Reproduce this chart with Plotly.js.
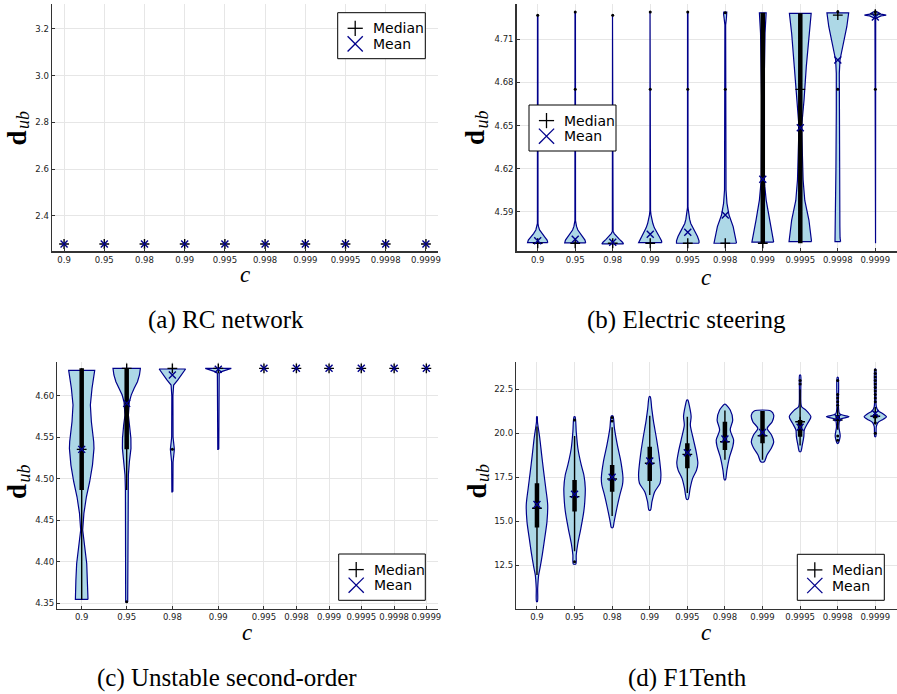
<!DOCTYPE html>
<html><head><meta charset="utf-8">
<script src="https://cdn.plot.ly/plotly-3.0.1.min.js"></script>
<style>html,body{margin:0;padding:0;background:#fff}</style>
</head><body><div id="chart" style="width:897px;height:694px"></div>
<script>
// ---------- shared categories ----------
const cLabels = ['0.9','0.95','0.98','0.99','0.995','0.998','0.999','0.9995','0.9998','0.9999'];
const catIndex = [0,1,2,3,4,5,6,7,8,9];
// panel (c) places its categories unevenly
const cPanelPos = [0, 0.985, 1.985, 2.99, 3.99, 4.70, 5.415, 6.12, 6.84, 7.545];
const legendLabels = ['Median', 'Mean'];

// ---------- (a) RC network ----------
const aMedian = [2.279,2.279,2.279,2.279,2.279,2.279,2.279,2.279,2.279,2.279];
const aMean   = [2.279,2.279,2.279,2.279,2.279,2.279,2.279,2.279,2.279,2.279];

// ---------- (b) Electric steering ----------
const bViolinY = [
  [4.5687,4.5705,4.5726,4.575,4.5775,4.580,4.582,4.7266],
  [4.5685,4.5705,4.5727,4.575,4.5775,4.580,4.5825,4.584,4.7289],
  [4.5678,4.569,4.571,4.573,4.575,4.5765,4.7266],
  [4.5687,4.570,4.573,4.576,4.579,4.582,4.585,4.588,4.591,4.7289],
  [4.5683,4.570,4.573,4.576,4.579,4.582,4.585,4.588,4.591,4.593,4.7289],
  [4.5683,4.5798,4.5879,4.596,4.6053,4.72,4.7245,4.7275,4.7289],
  [4.569,4.5844,4.5983,4.6076,4.6127,4.6678,4.691,4.7143,4.7284],
  [4.5694,4.5844,4.598,4.6122,4.6492,4.6678,4.691,4.714,4.728],
  [4.5694,4.572,4.58,4.62,4.66,4.675,4.6863,4.6956,4.7002,4.7094,4.7187,4.7284],
  [4.5683,4.7245,4.7262,4.7268,4.7275,4.729]
];
const bViolinW = [
  [0.27,0.25,0.19,0.11,0.05,0.02,0.008,0.006],
  [0.28,0.26,0.20,0.13,0.07,0.035,0.015,0.008,0.006],
  [0.29,0.26,0.18,0.10,0.04,0.01,0.006],
  [0.31,0.30,0.24,0.17,0.11,0.07,0.04,0.02,0.008,0.006],
  [0.30,0.30,0.26,0.20,0.13,0.08,0.05,0.03,0.013,0.007,0.006],
  [0.30,0.21,0.10,0.045,0.02,0.01,0.03,0.045,0.04],
  [0.29,0.18,0.09,0.055,0.04,0.03,0.04,0.06,0.09],
  [0.30,0.23,0.12,0.075,0.035,0.10,0.16,0.23,0.29],
  [0.075,0.06,0.055,0.05,0.04,0.035,0.04,0.058,0.093,0.16,0.24,0.29],
  [0.006,0.01,0.15,0.29,0.15,0.05]
];
const bMedian = [4.5683,4.5683,4.5683,4.5683,4.5683,4.5683,4.5683,4.6752,4.7268,4.7275];
const bMean   = [4.5700,4.5710,4.5690,4.5745,4.5759,4.5879,4.6127,4.6485,4.6956,4.7255];
const bBoxLo  = [null,null,null,null,null,null,4.5683,4.5683,null,null];
const bBoxHi  = [null,null,null,null,null,null,4.7284,4.7280,null,null];
const bOutlierCat = [0,1,2,3,4,5,8,9,1,3,4,5,8,9];
const bOutlierVal = [4.7266,4.7289,4.7266,4.7289,4.7289,4.7285,4.7292,4.7292,4.6752,4.6752,4.6752,4.6752,4.6752,4.6752];

// ---------- (c) Unstable second-order ----------
const cViolinY = [
  [4.3547,4.378,4.398,4.418,4.4382,4.4583,4.4783,4.4964,4.5165,4.5366,4.5446,4.5687,4.5888,4.609,4.6169,4.6306],
  [4.3518,4.4864,4.5045,4.5205,4.5366,4.5487,4.5647,4.5767,4.5928,4.6008,4.609,4.6169,4.625,4.633],
  [4.4843,4.52,4.5354,4.55,4.60,4.6129,4.619,4.625,4.6322],
  [4.5354,4.627,4.629,4.631,4.633],
  [],[],[],[],[],[]
];
const cViolinW = [
  [0.138,0.127,0.11,0.066,0.022,0.048,0.103,0.175,0.236,0.269,0.263,0.212,0.19,0.226,0.247,0.285],
  [0.022,0.028,0.037,0.059,0.094,0.092,0.066,0.037,0.059,0.099,0.164,0.236,0.28,0.30],
  [0.011,0.015,0.044,0.015,0.012,0.028,0.12,0.20,0.289],
  [0.011,0.02,0.07,0.16,0.285],
  [],[],[],[],[],[]
];
const cMedian  = [4.5354,4.633,4.633,4.633,4.633,4.633,4.633,4.633,4.633,4.633];
const cMean    = [4.5354,4.5908,4.625,4.632,4.633,4.633,4.633,4.633,4.633,4.633];
const cBoxLo   = [4.4864,4.5354,null,null,null,null,null,null,null,null];
const cBoxHi   = [4.633,4.633,null,null,null,null,null,null,null,null];
const cWhiskLo = [4.3547,4.4864,null,null,null,null,null,null,null,null];
const cWhiskHi = [4.633,4.633,null,null,null,null,null,null,null,null];
const cOutlierCat = [1,2];
const cOutlierVal = [4.3518,4.5354];

// ---------- (d) F1Tenth ----------
const dViolinY = [
  [10.43,11.19,11.95,12.33,13.09,14.03,14.98,15.93,16.875,17.82,18.77,19.72,20.66,20.94],
  [12.56,13.09,13.65,14.6,15.55,16.11,16.875,17.63,18.2,19.15,20.09,20.94],
  [14.64,14.98,15.74,16.5,17.06,17.44,18.39,19.34,20.28,20.98],
  [15.64,16.11,16.68,17.16,17.63,18.77,19.72,20.66,21.42,22.08],
  [16.25,16.875,17.44,17.91,18.3,18.96,19.72,20.47,20.94,21.51,21.89],
  [17.35,17.91,18.67,19.24,19.62,20.19,20.76,21.32,21.65],
  [18.39,18.77,19.15,19.52,19.9,20.28,20.66,21.04,21.27],
  [18.96,19.34,19.81,20.19,20.57,20.94,21.32,21.51,22.46,23.31],
  [19.43,19.85,20.38,20.8,20.94,21.1,21.51,23.18],
  [19.81,20.38,20.6,20.8,20.94,21.1,21.28,21.51,23.65]
];
const dViolinW = [
  [0.012,0.019,0.045,0.08,0.141,0.205,0.266,0.285,0.234,0.178,0.125,0.075,0.013,0.008],
  [0.032,0.045,0.08,0.168,0.245,0.272,0.285,0.248,0.178,0.088,0.045,0.013],
  [0.021,0.053,0.125,0.205,0.274,0.288,0.232,0.138,0.061,0.021],
  [0.021,0.059,0.133,0.274,0.298,0.245,0.178,0.101,0.053,0.013],
  [0.021,0.075,0.141,0.245,0.28,0.234,0.154,0.08,0.101,0.059,0.013],
  [0.013,0.053,0.125,0.208,0.232,0.141,0.208,0.141,0.013],
  [0.048,0.12,0.234,0.298,0.24,0.125,0.258,0.298,0.221],
  [0.019,0.059,0.099,0.112,0.2,0.288,0.154,0.04,0.019,0.013],
  [0.013,0.067,0.032,0.067,0.3,0.053,0.021,0.013],
  [0.013,0.027,0.067,0.213,0.298,0.213,0.08,0.027,0.013]
];
const dMedian  = [15.74,16.4,17.4,18.3,18.8,19.52,19.86,20.66,20.76,20.97];
const dMean    = [15.95,16.53,17.5,18.42,18.9,19.68,20.05,20.34,20.9,21.12];
const dBoxLo   = [14.64,15.55,16.68,17.29,18.01,19.05,19.43,19.81,20.7,20.85];
const dBoxHi   = [17.16,17.35,18.2,19.24,19.43,20.66,21.27,20.76,21.04,21.1];
const dWhiskLo = [11.95,13.3,15.3,16.5,16.6,18.5,18.5,19.3,20.2,20.5];
const dWhiskHi = [20.38,19.85,20.35,21.0,20.94,21.3,21.27,22.5,21.5,21.5];
const dOutlierCat = [1,1,2,2,7,7,8,8,8,8,8,8,8,9,9,9,9,9,9,9,9,9,9,9,9];
const dOutlierVal = [20.75,12.7,20.9,20.7,22.8,23.0,22.2,22.0,21.8,21.6,19.85,19.6,23.0,23.6,23.4,23.2,23.0,22.8,22.6,22.4,22.2,22.0,21.8,20.6,20.0];

// ---------- build ----------
const NAVY = '#00008b', FILL = '#add8e6';
const traces = [];
function violin(ax, pos, ys, ws, smooth){
  if (!ys || ys.length === 0) return;
  const x = [], y = [];
  for (let i = 0; i < ys.length; i++){ x.push(pos + ws[i]); y.push(ys[i]); }
  for (let i = ys.length - 1; i >= 0; i--){ x.push(pos - ws[i]); y.push(ys[i]); }
  x.push(x[0]); y.push(y[0]);
  traces.push({type:'scatter', mode:'lines', x, y, xaxis:ax[0], yaxis:ax[1],
    fill:'toself', fillcolor:FILL, line:{color:NAVY, width:1.2, shape: smooth ? 'spline' : 'linear', smoothing:0.8},
    showlegend:false, hoverinfo:'skip'});
}
function vline(ax, pos, lo, hi, w){
  if (lo == null || hi == null) return;
  traces.push({type:'scatter', mode:'lines', x:[pos,pos], y:[lo,hi], xaxis:ax[0], yaxis:ax[1],
    line:{color:'#000', width:w}, showlegend:false, hoverinfo:'skip'});
}
function pts(ax, xs, ys, symbol, color, size, lw){
  traces.push({type:'scatter', mode:'markers', x:xs, y:ys, xaxis:ax[0], yaxis:ax[1],
    marker:{symbol, size, color, line:{color, width:lw}}, showlegend:false, hoverinfo:'skip'});
}
function panel(ax, pos, vy, vw, smooth, wlo, whi, blo, bhi, oc, ov, med, mean){
  if (vy) for (let i = 0; i < pos.length; i++) violin(ax, pos[i], vy[i], vw[i], smooth);
  if (wlo) for (let i = 0; i < pos.length; i++) vline(ax, pos[i], wlo[i], whi[i], 1.4);
  if (blo) for (let i = 0; i < pos.length; i++) vline(ax, pos[i], blo[i], bhi[i], 4.5);
  if (oc) pts(ax, oc.map(k => pos[k]), ov, 'circle', '#000', 3, 0);
  pts(ax, pos, med, 'cross-thin-open', '#000', 7, 1.4);
  pts(ax, pos, mean, 'x-thin-open', NAVY, 7, 1.4);
}

panel(['x','y'], catIndex, null, null, false, null, null, null, null, null, null, aMedian, aMean);
panel(['x2','y2'], catIndex, bViolinY, bViolinW, false, null, null, bBoxLo, bBoxHi, bOutlierCat, bOutlierVal, bMedian, bMean);
panel(['x3','y3'], cPanelPos, cViolinY, cViolinW, false, cWhiskLo, cWhiskHi, cBoxLo, cBoxHi, cOutlierCat, cOutlierVal, cMedian, cMean);
panel(['x4','y4'], catIndex, dViolinY, dViolinW, true, dWhiskLo, dWhiskHi, dBoxLo, dBoxHi, dOutlierCat, dOutlierVal, dMedian, dMean);

const W = 897, H = 694;
const px = v => v / W, py = v => 1 - v / H;
const serif = 'Liberation Serif';
const tickFont = {family:'DejaVu Sans', size:8.5, color:'#222'};
function xax(l, r, range, tv, anchor){
  return {domain:[px(l), px(r)], range, tickvals:tv, ticktext:cLabels, anchor,
    showline:true, linecolor:'#333', linewidth:1.5, showgrid:true, gridcolor:'#e6e6e6', gridwidth:1,
    zeroline:false, ticks:'inside', ticklen:3, tickcolor:'#333', tickfont:tickFont};
}
function yax(t, b, range, tv, fmt, anchor){
  return {domain:[py(b), py(t)], range, tickvals:tv, tickformat:fmt, anchor,
    showline:true, linecolor:'#333', linewidth:1.5, showgrid:true, gridcolor:'#e6e6e6', gridwidth:1,
    zeroline:false, ticks:'inside', ticklen:3, tickcolor:'#333', tickfont:tickFont};
}
function ann(x, y, text, size, opts){
  opts = opts || {};
  return {xref:'paper', yref:'paper', x:px(x), y:py(y), xanchor:opts.anchor || 'center', yanchor:'middle', showarrow:false,
    text, textangle:opts.angle || 0,
    font:{family:opts.fam || serif, size, color:'#000', weight:opts.weight || 'normal', style:opts.style || 'normal'}};
}
// legend boxes drawn as layout decoration: [left, top, right, bottom] in pixels
const legendBoxes = [[337.7,12.7,425.3,58.7],[529,105,616,151],[338.7,554,425.3,600.3],[797.3,554.3,884.3,600.3]];
const shapes = [], annotations = [];
legendBoxes.forEach(([l, t, r, b]) => {
  shapes.push({type:'rect', xref:'paper', yref:'paper', x0:px(l), x1:px(r), y0:py(b), y1:py(t),
    line:{color:'#000', width:1}, fillcolor:'#fff', layer:'above'});
  const cx = l + 17.5, y1 = t + 15.6, y2 = t + 31.2, s = 7.6;
  const seg = (xa, ya, xb, yb, col) => shapes.push({type:'line', xref:'paper', yref:'paper',
    x0:px(xa), y0:py(ya), x1:px(xb), y1:py(yb), line:{color:col, width:1.3}, layer:'above'});
  seg(cx - s, y1, cx + s, y1, '#000'); seg(cx, y1 - s, cx, y1 + s, '#000');
  seg(cx - s, y2 - s, cx + s, y2 + s, NAVY); seg(cx - s, y2 + s, cx + s, y2 - s, NAVY);
  annotations.push(ann(l + 33, y1, legendLabels[0], 14, {fam:'DejaVu Sans', anchor:'left'}));
  annotations.push(ann(l + 33, y2, legendLabels[1], 14, {fam:'DejaVu Sans', anchor:'left'}));
});
// axis titles: bold "d" with italic subscript "ub" (rotated), italic "c"
[[16.5, 138], [475.5, 137.5], [16.5, 491.5], [476, 491.5]].forEach(([x, y]) => {
  annotations.push(ann(x, y, 'd', 27, {angle:-90, weight:'bold'}));
  annotations.push(ann(x + 6.5, y - 18, 'ub', 18, {angle:-90, style:'italic'}));
});
[[245, 275], [706, 277], [247, 632], [706, 632]].forEach(([x, y]) => {
  annotations.push(ann(x, y, 'c', 23, {style:'italic'}));
});
annotations.push(
  ann(226, 320, '(a) RC network', 25), ann(686, 320, '(b) Electric steering', 25),
  ann(227, 678, '(c) Unstable second-order', 25), ann(687, 678, '(d) F1Tenth', 25)
);
const layout = {
  width:W, height:H, margin:{l:0, r:0, t:0, b:0}, paper_bgcolor:'#fff', plot_bgcolor:'#fff',
  showlegend:false,
  xaxis:  xax(52, 438, [-0.3, 9.3], catIndex, 'y'),
  yaxis:  yax(4, 251, [2.249, 3.307], [2.4, 2.6, 2.8, 3.0, 3.2], '.1f', 'x'),
  xaxis2: xax(516.7, 896.7, [-0.56, 9.57], catIndex, 'y2'),
  yaxis2: yax(4, 251, [4.5629, 4.7345], [4.59, 4.62, 4.65, 4.68, 4.71], '.2f', 'x2'),
  xaxis3: xax(57.3, 438, [-0.534, 7.80], cPanelPos, 'y3'),
  yaxis3: yax(361.7, 608.7, [4.3435, 4.641], [4.35, 4.40, 4.45, 4.50, 4.55, 4.60], '.2f', 'x3'),
  xaxis4: xax(516.3, 896.7, [-0.55, 9.57], catIndex, 'y4'),
  yaxis4: yax(361.7, 608.7, [10.03, 24.07], [12.5, 15.0, 17.5, 20.0, 22.5], '.1f', 'x4'),
  shapes, annotations
};
Plotly.newPlot('chart', traces, layout, {staticPlot:true, displayModeBar:false});
</script></body></html>
